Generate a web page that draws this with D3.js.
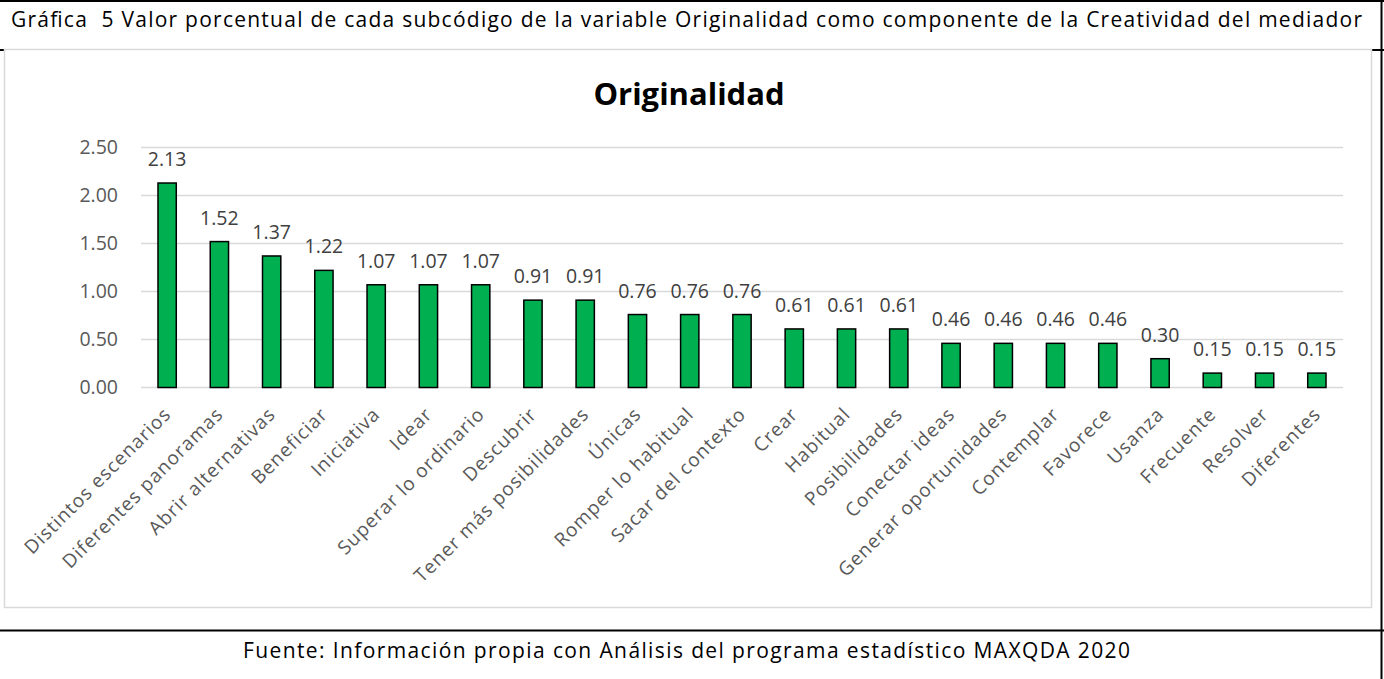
<!DOCTYPE html>
<html>
<head>
<meta charset="utf-8">
<script src="https://cdn.jsdelivr.net/npm/d3@7.9.0/dist/d3.min.js"></script>
<style>
  body { margin: 0; background: #fff; }
  svg { display: block; font-family: "Open Sans", sans-serif; }
  .pre { white-space: pre; }
</style>
</head>
<body>
<svg id="chart" width="1384" height="679"></svg>
<script>
// chart data
const categories = [
  "Distintos escenarios", "Diferentes panoramas", "Abrir alternativas", "Beneficiar",
  "Iniciativa", "Idear", "Superar lo ordinario", "Descubrir", "Tener más posibilidades",
  "Únicas", "Romper lo habitual", "Sacar del contexto", "Crear", "Habitual",
  "Posibilidades", "Conectar ideas", "Generar oportunidades", "Contemplar", "Favorece",
  "Usanza", "Frecuente", "Resolver", "Diferentes"
];
const values = [
  2.13, 1.52, 1.37, 1.22, 1.07, 1.07, 1.07, 0.91, 0.91,
  0.76, 0.76, 0.76, 0.61, 0.61, 0.61, 0.46, 0.46, 0.46, 0.46,
  0.30, 0.15, 0.15, 0.15
];
const yTicks = [0, 0.5, 1, 1.5, 2, 2.5];

const headerText = "Gráfica  5 Valor porcentual de cada subcódigo de la variable Originalidad como componente de la Creatividad del mediador";
const chartTitle = "Originalidad";
const footerText = "Fuente: Información propia con Análisis del programa estadístico MAXQDA 2020";

const svg = d3.select("#chart");

// document frame lines
svg.append("line").attr("x1", 0).attr("x2", 1384).attr("y1", 1).attr("y2", 1)
  .attr("stroke", "#000").attr("stroke-width", 2);
svg.append("line").attr("x1", 0).attr("x2", 1384).attr("y1", 50).attr("y2", 50)
  .attr("stroke", "#000").attr("stroke-width", 2);
svg.append("line").attr("x1", 0).attr("x2", 1384).attr("y1", 630.5).attr("y2", 630.5)
  .attr("stroke", "#000").attr("stroke-width", 2);
svg.append("line").attr("x1", 1381.5).attr("x2", 1381.5).attr("y1", 0).attr("y2", 679)
  .attr("stroke", "#000").attr("stroke-width", 2);

svg.append("text")
  .attr("class", "pre")
  .attr("x", 11).attr("y", 27)
  .attr("font-size", 21)
  .attr("fill", "#000")
  .attr("textLength", 1351).attr("lengthAdjust", "spacing")
  .text(headerText);

// chart box
svg.append("rect")
  .attr("x", 4.5).attr("y", 49.5)
  .attr("width", 1367).attr("height", 558)
  .attr("fill", "#fff").attr("stroke", "#d9d9d9").attr("stroke-width", 1.5);

svg.append("text")
  .attr("x", 689).attr("y", 105)
  .attr("text-anchor", "middle")
  .attr("font-size", 31).attr("font-weight", "bold")
  .attr("fill", "#000")
  .text(chartTitle);

const margin = { left: 141, right: 1343, top: 147.5, bottom: 387.5 };

const x = d3.scaleBand()
  .domain(categories)
  .range([margin.left, margin.right])
  .paddingInner(0.65)
  .paddingOuter(0.325);

const y = d3.scaleLinear()
  .domain([0, 2.5])
  .range([margin.bottom, margin.top]);

// gridlines
svg.append("g")
  .selectAll("line")
  .data(yTicks)
  .join("line")
  .attr("x1", margin.left).attr("x2", margin.right)
  .attr("y1", d => y(d)).attr("y2", d => y(d))
  .attr("stroke", "#d9d9d9").attr("stroke-width", 1.5);

// y axis labels
const yAxis = d3.axisLeft(y).tickValues(yTicks).tickFormat(d3.format(".2f")).tickSize(0).tickPadding(23);
const yg = svg.append("g").attr("transform", `translate(${margin.left},0)`).call(yAxis);
yg.select(".domain").remove();
yg.selectAll("text").attr("font-size", 19.5).attr("fill", "#595959").attr("font-family", "'Open Sans', sans-serif");

// bars
svg.append("g")
  .selectAll("rect")
  .data(values)
  .join("rect")
  .attr("x", (d, i) => x(categories[i]))
  .attr("y", d => y(d))
  .attr("width", x.bandwidth())
  .attr("height", d => y(0) - y(d))
  .attr("fill", "#00b050")
  .attr("stroke", "#000")
  .attr("stroke-width", 1.5);

// value labels
svg.append("g")
  .selectAll("text")
  .data(values)
  .join("text")
  .attr("x", (d, i) => x(categories[i]) + x.bandwidth() / 2)
  .attr("y", d => y(d) - 17)
  .attr("text-anchor", "middle")
  .attr("font-size", 19.5)
  .attr("fill", "#404040")
  .text(d => d3.format(".2f")(d));

// x axis labels, rotated
const xAxis = d3.axisBottom(x).tickSize(0).tickPadding(0);
const xg = svg.append("g").attr("transform", `translate(0,${margin.bottom})`).call(xAxis);
xg.select(".domain").remove();
xg.selectAll("text")
  .attr("font-size", 19)
  .attr("letter-spacing", 1)
  .attr("fill", "#595959")
  .attr("font-family", "'Open Sans', sans-serif")
  .attr("text-anchor", "end")
  .attr("dy", 0)
  .attr("transform", "translate(5,28) rotate(-45)");

svg.append("text")
  .attr("x", 243).attr("y", 658)
  .attr("font-size", 21)
  .attr("fill", "#000")
  .attr("textLength", 887).attr("lengthAdjust", "spacing")
  .text(footerText);
</script>
</body>
</html>
